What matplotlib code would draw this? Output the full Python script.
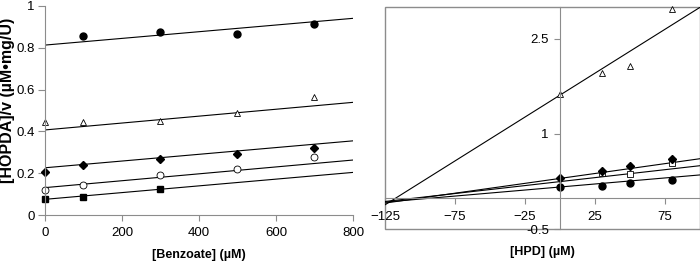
import matplotlib
matplotlib.use('Agg')
import matplotlib.pyplot as plt
import numpy as np
from matplotlib.patches import Rectangle

plt.rcParams['font.family'] = ['Liberation Sans', 'DejaVu Sans']

# left panel: [HOPDA]/v against [benzoate]
benz_x = [0, 100, 300, 500, 700]
circ_fill_x = [100, 300, 500, 700]
circ_fill_y = [0.856, 0.877, 0.866, 0.914]
tri_y = [0.446, 0.447, 0.450, 0.490, 0.563]
dia_y = [0.207, 0.240, 0.270, 0.290, 0.322]
circ_open_y = [0.120, 0.145, 0.193, 0.222, 0.276]
sq_x = [0, 100, 300]
sq_y = [0.078, 0.088, 0.123]
# fitted lines (intercept, slope)
fits_left = [(0.813, 0.000160), (0.407, 0.000165), (0.226, 0.000161),
             (0.131, 0.000165), (0.075, 0.000161)]

# right panel: [HOPDA]/v against [HPD]
hpd_x = [0, 30, 50, 80]
r_tri_y = [1.62, 1.95, 2.07, 2.96]
r_dia_y = [0.30, 0.41, 0.50, 0.60]
r_sq_x = [30, 50, 80]
r_sq_y = [0.38, 0.365, 0.55]
r_circ_y = [0.17, 0.185, 0.23, 0.275]
fits_right = [(1.61, 0.0138), (0.30, 0.0031), (0.25, 0.0025), (0.165, 0.0019)]

GRAY = '#8c8c8c'
ms = 5

fig = plt.figure(figsize=(7, 2.61), dpi=100)

# ---- left
ax = fig.add_axes([45/700, 46/261, 308/700, 209/261])
ax.set_xlim(0, 800)
ax.set_ylim(0, 1)
xx = np.array([0, 800])
for b, m in fits_left:
    ax.plot(xx, b + m * xx, color='black', lw=0.8)
ax.plot(circ_fill_x, circ_fill_y, 'o', color='black', ms=ms, clip_on=False)
ax.plot(benz_x, tri_y, '^', mfc='white', mec='black', mew=0.6, ms=ms, clip_on=False)
ax.plot(benz_x, dia_y, 'D', color='black', ms=4, clip_on=False)
ax.plot(benz_x, circ_open_y, 'o', mfc='white', mec='black', mew=0.6, ms=ms, clip_on=False)
ax.plot(sq_x, sq_y, 's', color='black', ms=ms, clip_on=False)
for s in ['top', 'right']:
    ax.spines[s].set_visible(False)
for s in ['left', 'bottom']:
    ax.spines[s].set_color(GRAY)
ax.set_xticks([0, 200, 400, 600, 800])
ax.set_yticks([0, 0.2, 0.4, 0.6, 0.8, 1])
ax.set_yticklabels(['0', '0.2', '0.4', '0.6', '0.8', '1'])
ax.tick_params(axis='x', length=4, pad=5, labelsize=9.5, color=GRAY)
ax.tick_params(axis='y', length=5, pad=2.5, labelsize=9.5, color=GRAY)
ax.set_xlabel('[Benzoate] (µM)', fontsize=9, fontweight='bold')
ax.xaxis.set_label_coords(0.5, -0.165)
ax.set_ylabel('[HOPDA]/v (µM•mg/U)', fontsize=11.5, fontweight='bold')
ax.yaxis.set_label_coords(-0.098, 0.55)

# ---- right
ax2 = fig.add_axes([385/700, 31.7/261, 315/700, 222.6/261])
ax2.set_xlim(-125, 100)
ax2.set_ylim(-0.5, 3.0)
xx = np.array([-125, 100])
for b, m in fits_right:
    ax2.plot(xx, b + m * xx, color='black', lw=0.8)
ax2.plot(hpd_x, r_tri_y, '^', mfc='white', mec='black', mew=0.6, ms=ms, clip_on=False)
ax2.plot(hpd_x, r_circ_y, 'o', color='black', ms=ms)
ax2.plot(r_sq_x, r_sq_y, 's', mfc='white', mec='black', mew=0.6, ms=ms)
ax2.plot(hpd_x, r_dia_y, 'D', color='black', ms=4)
ax2.spines['left'].set_position(('data', 0))
ax2.spines['bottom'].set_position(('data', 0))
for s in ['top', 'right']:
    ax2.spines[s].set_visible(False)
for s in ['left', 'bottom']:
    ax2.spines[s].set_color(GRAY)
ax2.add_patch(Rectangle((0, 0), 1, 1, transform=ax2.transAxes, fill=False,
                        ec=GRAY, lw=1, clip_on=False))
ax2.set_xticks([-125, -75, -25, 25, 75])
ax2.set_yticks([-0.5, 1, 2.5])
ax2.set_yticklabels(['-0.5', '1', '2.5'])
ax2.tick_params(axis='x', length=4, pad=6, labelsize=9.5, color=GRAY)
ax2.tick_params(axis='y', length=4, pad=4, labelsize=9.5, color=GRAY)
ax2.set_xlabel('[HPD] (µM)', fontsize=9, fontweight='bold')
ax2.xaxis.set_label_coords(0.5, -0.075)

fig.savefig('out.png', dpi=100)
